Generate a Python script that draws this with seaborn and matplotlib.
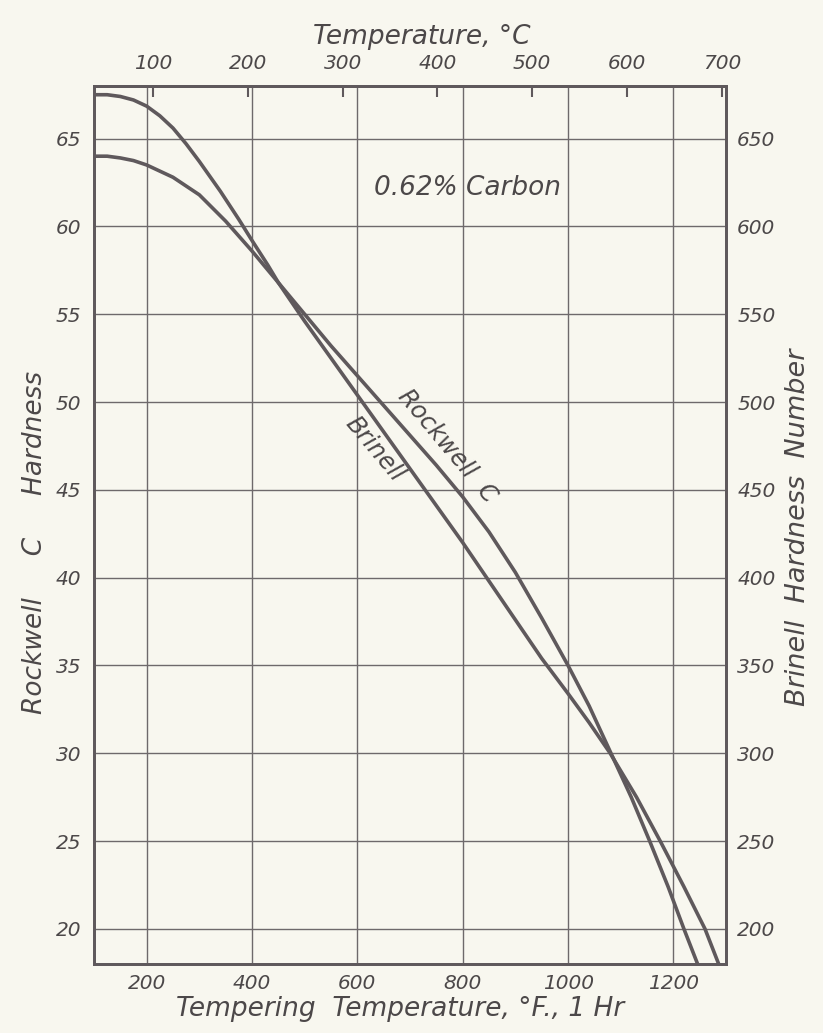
import pandas as pd
import matplotlib
matplotlib.use("Agg")
import matplotlib.pyplot as plt
import seaborn as sns

# Odczyt z wykresu: temperatura odpuszczania (F) i twardosc
rockwell_temp_f = [100, 125, 150, 175, 200, 250, 300, 350, 400, 450, 500, 550, 600, 650, 700,
                   750, 800, 850, 900, 950, 1000, 1040, 1080, 1120, 1155, 1190, 1220, 1246]
rockwell_hrc = [64.0, 64.0, 63.9, 63.75, 63.5, 62.8, 61.8, 60.3, 58.6, 56.8, 55.0, 53.2, 51.5,
                49.8, 48.1, 46.4, 44.6, 42.6, 40.3, 37.7, 35.0, 32.7, 30.1, 27.5, 25.0, 22.4,
                20.0, 18.0]

brinell_temp_f = [100, 125, 150, 175, 200, 225, 250, 275, 300, 340, 375, 400, 430, 450, 500,
                  550, 600, 650, 700, 750, 800, 850, 900, 950, 1000, 1040, 1080, 1130, 1175,
                  1220, 1260, 1286]
brinell_bhn = [675, 675, 674, 672, 668.5, 663, 656, 647, 637, 620, 604, 592, 578, 568, 546,
               525, 504, 483, 462, 441, 420, 398, 376, 354, 334, 317.5, 300, 275, 250,
               224, 200, 180]

f_ticks = [200, 400, 600, 800, 1000, 1200]
c_ticks = [100, 200, 300, 400, 500, 600, 700]
hrc_ticks = [20, 25, 30, 35, 40, 45, 50, 55, 60, 65]
bhn_ticks = [200, 250, 300, 350, 400, 450, 500, 550, 600, 650]

bg = "#f8f7ef"
ink = "#5f595c"
text_c = "#4c4849"

sns.set_style("white")
plt.rcParams["font.family"] = ["DejaVu Sans"]
plt.rcParams["font.style"] = "italic"

rock = pd.DataFrame({"temp_f": rockwell_temp_f, "hrc": rockwell_hrc})
brin = pd.DataFrame({"temp_f": brinell_temp_f, "bhn": brinell_bhn})

fig = plt.figure(figsize=(8.23, 10.33), dpi=100, facecolor=bg)
ax = fig.add_axes([0.1142, 0.0668, 0.768, 0.85])
ax.set_facecolor(bg)

sns.lineplot(data=rock, x="temp_f", y="hrc", ax=ax, color=ink, lw=2.6,
             sort=False, estimator=None)
ax.set_xlim(100, 1300)
ax.set_ylim(18, 68)
ax.set_xticks(f_ticks)
ax.set_yticks(hrc_ticks)
ax.grid(True, color="#6e696b", lw=1.0)
ax.tick_params(length=0, labelsize=14.5, labelcolor=text_c)
ax.tick_params(axis="y", pad=9)
ax.tick_params(axis="x", pad=7)

ax2 = ax.twinx()
sns.lineplot(data=brin, x="temp_f", y="bhn", ax=ax2, color=ink, lw=2.6,
             sort=False, estimator=None)
ax2.set_ylim(180, 680)
ax2.set_yticks(bhn_ticks)
ax2.grid(False)
ax2.tick_params(length=0, labelsize=14.5, labelcolor=text_c, pad=8)

for a in (ax, ax2):
    for s in a.spines.values():
        s.set_color(ink)
        s.set_linewidth(2.0)

# skala w stopniach Celsjusza u gory
secax = ax.secondary_xaxis("top", functions=(lambda f: (f - 32) * 5 / 9,
                                            lambda c: c * 9 / 5 + 32))
secax.set_xticks(c_ticks)
secax.tick_params(direction="in", length=8, width=1.5, color=ink,
                  labelsize=14.5, labelcolor=text_c, pad=9)
secax.spines["top"].set_color(ink)
secax.spines["top"].set_linewidth(2.0)

ax.set_xlabel("Tempering  Temperature, °F., 1 Hr", fontsize=19, color=text_c)
ax.xaxis.set_label_coords(0.484, -0.036)
ax.set_ylabel("Rockwell     C     Hardness", fontsize=19, color=text_c)
ax.yaxis.set_label_coords(-0.072, 0.48)
ax2.set_ylabel("Brinell  Hardness  Number", fontsize=19.5, color=text_c)
ax2.yaxis.set_label_coords(1.094, 0.497)
fig.text(0.513, 0.964, "Temperature, °C", fontsize=19, color=text_c,
         ha="center", va="center")

ax.text(810, 62.2, "0.62% Carbon", fontsize=19, color=text_c, ha="center", va="center")
ax.text(770, 47.5, "Rockwell  C", fontsize=17.5, color=text_c, rotation=-50,
        ha="center", va="center", rotation_mode="anchor")
ax.text(632, 47.3, "Brinell", fontsize=17.5, color=text_c, rotation=-50,
        ha="center", va="center", rotation_mode="anchor")

fig.savefig("out.png", dpi=100, facecolor=bg)
